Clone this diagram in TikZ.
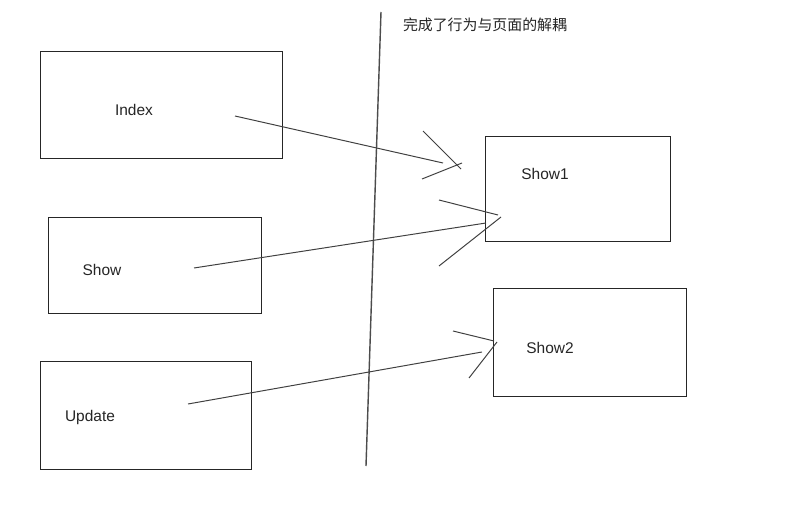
\documentclass[tikz,border=0pt]{standalone}
\usepackage{fontspec}
\setmainfont{Liberation Sans}
\newfontfamily\cjk{Noto Sans CJK SC}
\usetikzlibrary{positioning}
\tikzset{>=latex}
\tikzset{x=0.025cm, y=-0.025cm}
\tikzset{page/.style={draw=black!85, line width=0.7pt, inner sep=0pt},
  pagename/.style={font=\fontsize{11}{13}\selectfont, text=black!85},
  wire/.style={draw=black!75, line width=0.7pt},
  divider/.style={draw=black!70, line width=1pt}}

\begin{document}
\begin{tikzpicture}
  \useasboundingbox[fill=white] (0,0) rectangle (811,505);

  % the pages on the left
  \node[page, minimum width=6.025cm, minimum height=2.65cm] (index) at (161.5,105) {};
  \node[page, minimum width=5.3cm, minimum height=2.375cm] (show) at (155,265.5) {};
  \node[page, minimum width=5.25cm, minimum height=2.675cm] (update) at (146,415.5) {};
  \node[pagename] (indexname) at (134,110) {Index};
  \node[pagename] (showname) at (102,270) {Show};
  \node[pagename] (updatename) at (90,418) {Update};

  % the pages on the right
  \node[page, minimum width=4.6cm, minimum height=2.6cm] (showa) at (578,189) {};
  \node[page, minimum width=4.8cm, minimum height=2.675cm] (showb) at (590,342.5) {};
  \node[pagename] (showaname) at (545,174) {Show1};
  \node[pagename] (showbname) at (550,348) {Show2};

  % the dividing line and its note
  \coordinate (top) at (381,12);
  \coordinate (bottom) at (366,466);
  \draw[divider] (top) -- (bottom);
  \node[font=\cjk\fontsize{10.6}{12}\selectfont, text=black!85] (note) at (485,25) {完成了行为与页面的解耦};

  % hand drawn arrows
  \coordinate (indextail) at (235,116);
  \coordinate (indextip) at (443,163);
  \coordinate (ia) at (423,131);
  \coordinate (ib) at (461,169);
  \coordinate (ic) at (422,179);
  \coordinate (id) at (462,163);
  \draw[wire] (indextail) -- (indextip);
  \draw[wire] (ia) -- (ib);
  \draw[wire] (ic) -- (id);

  \coordinate (showtail) at (194,268);
  \coordinate (showtip) at (486,223);
  \coordinate (sa) at (439,200);
  \coordinate (sb) at (498,215);
  \coordinate (sc) at (439,266);
  \coordinate (sd) at (501,217);
  \draw[wire] (showtail) -- (showtip);
  \draw[wire] (sa) -- (sb);
  \draw[wire] (sc) -- (sd);

  \coordinate (updatetail) at (188,404);
  \coordinate (updatetip) at (482,352);
  \coordinate (ua) at (453,331);
  \coordinate (ub) at (494,341);
  \coordinate (uc) at (469,378);
  \coordinate (ud) at (497,342);
  \draw[wire] (updatetail) -- (updatetip);
  \draw[wire] (ua) -- (ub);
  \draw[wire] (uc) -- (ud);
\end{tikzpicture}
\end{document}
